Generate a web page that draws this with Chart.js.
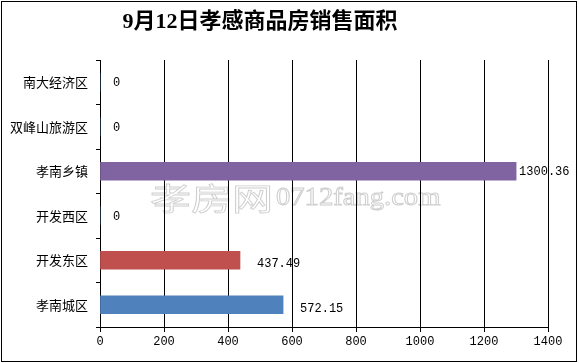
<!DOCTYPE html>
<html>
<head>
<meta charset="utf-8">
<script src="https://cdn.jsdelivr.net/npm/chart.js@4/dist/chart.umd.min.js"></script>
<style>
  body { margin: 0; background: #fff; }
  #chart { display: block; }
</style>
</head>
<body>
<canvas id="chart" width="579" height="363"></canvas>
<script>
// dati
const titleText = "9月12日孝感商品房销售面积";
const categories = ["南大经济区", "双峰山旅游区", "孝南乡镇", "开发西区", "开发东区", "孝南城区"];
const areas = [0, 0, 1300.36, 0, 437.49, 572.15];
const labelsText = ["0", "0", "1300.36", "0", "437.49", "572.15"];
const barColors = ["#4F81BD", "#4F81BD", "#8064A2", "#4F81BD", "#C0504D", "#4F81BD"];
const xTicks = [0, 200, 400, 600, 800, 1000, 1200, 1400];

// scostamento orizzontale delle etichette (come nell'originale)
const labelGap = [13, 13, 3, 13, 17, 17];

const decorPlugin = {
    id: "decor",
    beforeDraw(chart) {
        const ctx = chart.ctx;
        ctx.save();
        ctx.fillStyle = "#fff";
        ctx.fillRect(0, 0, chart.width, chart.height);
        // watermark
        ctx.strokeStyle = "#cfcfcf";
        ctx.lineWidth = 1;
        ctx.textBaseline = "middle";
        ctx.save();
        ctx.translate(150, 198);
        ctx.scale(1.08, 0.8);
        ctx.font = "38px 'Noto Sans CJK SC'";
        ctx.strokeText("孝房网", 0, 0);
        ctx.restore();
        ctx.save();
        ctx.translate(276, 198);
        ctx.scale(1.1, 1);
        ctx.font = "26px 'Liberation Serif'";
        ctx.strokeText("0712fang.com", 0, 0);
        ctx.restore();
        ctx.restore();
    },
    afterDraw(chart) {
        const ctx = chart.ctx;
        ctx.save();
        // bordo esterno
        ctx.strokeStyle = "#000";
        ctx.lineWidth = 1;
        ctx.strokeRect(1.5, 1.5, 575, 360);
        // titolo
        ctx.fillStyle = "#000";
        ctx.font = "bold 22px 'Liberation Serif', 'Noto Sans CJK SC'";
        ctx.textAlign = "center";
        ctx.textBaseline = "middle";
        ctx.fillText(titleText, 260, 22);
        // etichette dei valori
        const meta = chart.getDatasetMeta(0);
        ctx.font = "12px 'Liberation Mono'";
        ctx.textAlign = "left";
        meta.data.forEach((bar, i) => {
            const dy = areas[i] > 0 && areas[i] < 1000 ? 4 : 1;
            ctx.fillText(labelsText[i], bar.x + labelGap[i], bar.y + dy);
        });
        ctx.restore();
    }
};

new Chart(document.getElementById("chart"), {
    type: "bar",
    data: {
        labels: categories,
        datasets: [{
            data: areas,
            backgroundColor: barColors,
            borderWidth: 0,
            barThickness: 18
        }]
    },
    options: {
        indexAxis: "y",
        responsive: false,
        animation: false,
        layout: { padding: { left: 0, right: 31, top: 60, bottom: 0 } },
        plugins: {
            legend: { display: false },
            tooltip: { enabled: false },
            title: { display: false }
        },
        scales: {
            x: {
                min: 0,
                max: 1400,
                afterFit: (scale) => { scale.height = 36; },
                afterBuildTicks: (scale) => { scale.ticks = xTicks.map(v => ({ value: v })); },
                grid: { color: "#000", lineWidth: 1, drawTicks: true, tickLength: 5, tickColor: "#000" },
                border: { color: "#000", width: 1 },
                ticks: {
                    color: "#000",
                    padding: 3,
                    maxRotation: 0,
                    callback: (v) => String(v),
                    font: { family: "'Liberation Mono'", size: 12 }
                }
            },
            y: {
                afterFit: (scale) => { scale.width = 100; },
                grid: { offset: true, drawOnChartArea: false, drawTicks: true, tickLength: 4, tickColor: "#000" },
                border: { color: "#000", width: 1 },
                ticks: {
                    color: "#000",
                    padding: 8,
                    font: { family: "'Noto Sans CJK SC'", size: 13 }
                }
            }
        }
    },
    plugins: [decorPlugin]
});
</script>
</body>
</html>
